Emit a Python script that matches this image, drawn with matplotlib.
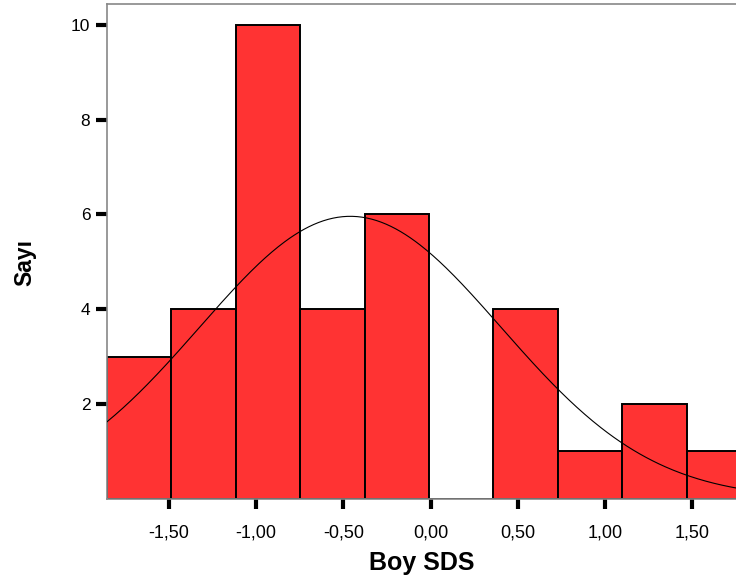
import numpy as np
import matplotlib
matplotlib.use('Agg')
import matplotlib.pyplot as plt

# histogram of Boy SDS
bin_start = -1.854
bin_width = 0.369
counts = [3, 4, 10, 4, 6, 0, 4, 1, 2, 1]

# normal curve from the sample summary
n_obs = 35
mean_sds = -0.46
std_sds = 0.8645

xticks = [-1.5, -1.0, -0.5, 0.0, 0.5, 1.0, 1.5]
xticklabels = ['-1,50', '-1,00', '-0,50', '0,00', '0,50', '1,00', '1,50']
yticks = [2, 4, 6, 8, 10]


def main():
    plt.rc('font', family='Liberation Sans')
    fig = plt.figure(figsize=(7.36, 5.84), dpi=100)
    ax = fig.add_axes([107 / 736, 0.146, 644 / 736, 0.8463])

    edges = bin_start + bin_width * np.arange(len(counts) + 1)
    ax.bar(edges[:-1], counts, width=bin_width, align='edge',
           color='#ff3333', edgecolor='black', linewidth=1.4, zorder=2)

    xs = np.linspace(edges[0], edges[-1], 400)
    pdf = np.exp(-0.5 * ((xs - mean_sds) / std_sds) ** 2) / (std_sds * np.sqrt(2 * np.pi))
    ax.plot(xs, n_obs * bin_width * pdf, color='black', linewidth=0.8, zorder=3)

    ax.set_xlim(edges[0], edges[-1])
    ax.set_ylim(0, 10.43)

    ax.set_xticks(xticks)
    ax.set_xticklabels(xticklabels)
    ax.set_yticks(yticks)
    ax.tick_params(axis='x', direction='out', length=7.5, width=3,
                   pad=11, labelsize=13)
    ax.tick_params(axis='y', direction='out', length=8, width=3,
                   pad=4, labelsize=12.5)

    for side in ['left', 'top', 'bottom', 'right']:
        ax.spines[side].set_color('#888888')
        ax.spines[side].set_linewidth(1.2)

    fig.text(422 / 736, (584 - 563) / 584, 'Boy SDS', ha='center', va='center',
             fontsize=18, fontweight='bold')
    fig.text(25 / 736, (584 - 262) / 584, 'Sayı', ha='center', va='center',
             rotation=90, fontsize=16.5, fontweight='bold')

    fig.savefig('out.png', dpi=100)


if __name__ == '__main__':
    main()
